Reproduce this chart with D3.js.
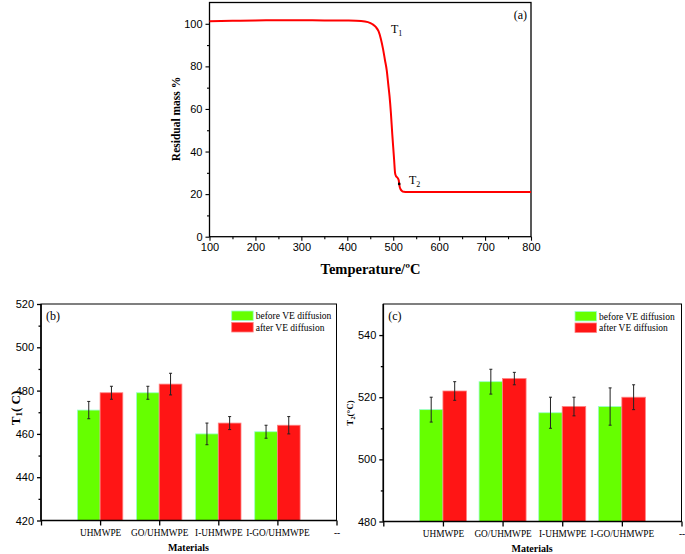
<!DOCTYPE html>
<html><head><meta charset="utf-8">
<script src="https://cdn.jsdelivr.net/npm/d3@7/dist/d3.min.js"></script>
<style>body{margin:0;background:#fff}svg{display:block}</style>
</head><body><svg id="c" width="685" height="554"></svg>
<script>
// ---- Data ----
const tgaTemp = [100,150,200,250,300,350,400,430,445,455,462,468,473,478,482,486,489,492,495,498,500,502,504,506,508,510,512,513,514,516,519,523,530,550,600,700,800];
const tgaMass = [101.2,101.4,101.6,101.7,101.7,101.6,101.5,101.3,100.8,99.8,98.5,96.5,93,88,83,78,72,66,58,48,42,36,30,28.5,28,27.5,26.5,25,23.5,22.3,21.5,21.1,21,21,21,21,21];
const tgaXTicks = [100,200,300,400,500,600,700,800];
const tgaYTicks = [0,20,40,60,80,100];

const categories = ["", "UHMWPE", "GO/UHMWPE", "I-UHMWPE", "I-GO/UHMWPE", "--"];
const materials = ["UHMWPE", "GO/UHMWPE", "I-UHMWPE", "I-GO/UHMWPE"];
const seriesNames = ["before VE diffusion", "after VE diffusion"];
const t1Before = [471, 479, 460, 461];
const t1BeforeErr = [4, 3, 5, 3];
const t1After = [479, 483, 465, 464];
const t1AfterErr = [3, 5, 3, 4];
const t2Before = [516, 525, 515, 517];
const t2BeforeErr = [4, 4, 5, 6];
const t2After = [522, 526, 517, 520];
const t2AfterErr = [3, 2, 3, 4];
const t1Ticks = [420,440,460,480,500,520];
const t2Ticks = [480,500,520,540];

const svg = d3.select("#c");
const SANS = "'Liberation Sans', Arial, sans-serif";
const SERIF = "'Liberation Serif', 'Times New Roman', serif";
const GREEN = "#66ff00", RED = "#ff1515";

// ---- Top TGA chart ----
(function(){
  const L=209.5, R=531, T=2.5, B=236.7;
  const x = d3.scaleLinear().domain([100,800]).range([L,R]);
  const y = d3.scaleLinear().domain([0,110]).range([B,T]);
  const g = svg.append("g");
  g.append("rect").attr("x",L).attr("y",T).attr("width",R-L).attr("height",B-T)
    .attr("fill","none").attr("stroke","#000").attr("stroke-width",1.3);
  const xa = g.append("g").attr("transform",`translate(0,${B})`)
    .call(d3.axisBottom(x).tickValues(tgaXTicks).tickSize(4).tickPadding(3));
  const xm = g.append("g").attr("transform",`translate(0,${B})`)
    .call(d3.axisBottom(x).tickValues(d3.range(150,800,100)).tickSize(2.5).tickFormat(""));
  const ya = g.append("g").attr("transform",`translate(${L},0)`)
    .call(d3.axisLeft(y).tickValues(tgaYTicks).tickSize(4).tickPadding(3));
  const ym = g.append("g").attr("transform",`translate(${L},0)`)
    .call(d3.axisLeft(y).tickValues(d3.range(10,110,20)).tickSize(2.5).tickFormat(""));
  [xa,xm,ya,ym].forEach(a=>{a.select(".domain").remove();a.selectAll("line").attr("stroke","#000").attr("stroke-width",1.1);
    a.selectAll("text").attr("font-family",SANS).attr("font-size",11).attr("fill","#000");});
  const pts = tgaTemp.map((t,i)=>[t,tgaMass[i]]);
  g.append("path").datum(pts)
    .attr("d", d3.line().x(d=>x(d[0])).y(d=>y(d[1])).curve(d3.curveMonotoneX))
    .attr("fill","none").attr("stroke","#ff0000").attr("stroke-width",2);
  g.append("circle").attr("cx",x(513)).attr("cy",y(24.8)).attr("r",1.3).attr("fill","#000");
  const t1 = g.append("text").attr("x",391).attr("y",33).attr("font-family",SERIF).attr("font-size",12);
  t1.append("tspan").text("T");
  t1.append("tspan").attr("font-size",8).attr("dy",3).text("1");
  const t2 = g.append("text").attr("x",409).attr("y",184).attr("font-family",SERIF).attr("font-size",12);
  t2.append("tspan").text("T");
  t2.append("tspan").attr("font-size",8).attr("dy",3).text("2");
  g.append("text").attr("x",527).attr("y",19).attr("text-anchor","end").attr("font-family",SERIF).attr("font-size",12).text("(a)");
  g.append("text").attr("x",370.5).attr("y",274).attr("text-anchor","middle").attr("font-family",SERIF)
    .attr("font-size",14.5).attr("font-weight","bold").text("Temperature/ºC");
  g.append("text").attr("transform",`translate(180,119) rotate(-90)`).attr("text-anchor","middle").attr("font-family",SERIF)
    .attr("font-size",11.5).attr("font-weight","bold").text("Residual mass %");
})();

// ---- Bar charts ----
function barChart(opt){
  const {L,R,T,B,domain,ticks,minor,before,beforeErr,after,afterErr,bw,tag,legX,legY,ylab,ylabX,ylabY,matY,catY} = opt;
  const x = d3.scalePoint().domain(categories).range([L,R]);
  const y = d3.scaleLinear().domain(domain).range([B,T]);
  const g = svg.append("g");
  const series = [[before,beforeErr,GREEN,"#99ffcc",-1],[after,afterErr,RED,"#ff8080",0]];
  series.forEach(([vals,errs,col,edge,off])=>{
    g.selectAll(null).data(materials).enter().append("rect")
      .attr("x",d=>x(d)+off*bw).attr("width",bw)
      .attr("y",(d,i)=>y(vals[i])).attr("height",(d,i)=>B-y(vals[i]))
      .attr("fill",col).attr("stroke",edge).attr("stroke-width",0.8);
  });
  series.forEach(([vals,errs,col,edge,off])=>{
    materials.forEach((m,i)=>{
      const cx = x(m)+off*bw+bw/2;
      const y1=y(vals[i]+errs[i]), y2=y(vals[i]-errs[i]);
      g.append("line").attr("x1",cx).attr("x2",cx).attr("y1",y1).attr("y2",y2).attr("stroke","#222").attr("stroke-width",1);
      [y1,y2].forEach(yy=>g.append("line").attr("x1",cx-1.5).attr("x2",cx+1.5).attr("y1",yy).attr("y2",yy).attr("stroke","#222").attr("stroke-width",1));
    });
  });
  g.append("rect").attr("x",L).attr("y",T).attr("width",R-L).attr("height",B-T)
    .attr("fill","none").attr("stroke","#000").attr("stroke-width",1);
  g.append("line").attr("x1",L).attr("x2",R).attr("y1",B).attr("y2",B).attr("stroke","#000").attr("stroke-width",1.6);
  g.append("line").attr("x1",L).attr("x2",L).attr("y1",T).attr("y2",B).attr("stroke","#000").attr("stroke-width",1.6);
  const xa = g.append("g").attr("transform",`translate(0,${B})`)
    .call(d3.axisBottom(x).tickSize(5).tickPadding(5));
  const ya = g.append("g").attr("transform",`translate(${L},0)`)
    .call(d3.axisLeft(y).tickValues(ticks).tickSize(4).tickPadding(3));
  const ym = g.append("g").attr("transform",`translate(${L},0)`)
    .call(d3.axisLeft(y).tickValues(minor).tickSize(2.5).tickFormat(""));
  [xa,ya,ym].forEach(a=>{a.select(".domain").remove();a.selectAll("line").attr("stroke","#000").attr("stroke-width",1.3);});
  ya.selectAll("text").attr("font-family",SANS).attr("font-size",11).attr("fill","#000");
  xa.selectAll("text").attr("font-family",SERIF).attr("font-size",9.3).attr("fill","#000").attr("y",catY-B).attr("dy",0);
  seriesNames.forEach((s,i)=>{
    g.append("rect").attr("x",legX).attr("y",legY+i*11.5).attr("width",21.5).attr("height",9.5)
      .attr("fill",i?RED:GREEN).attr("stroke",i?"#ff8080":"#99ffcc").attr("stroke-width",0.8);
    g.append("text").attr("x",legX+24).attr("y",legY+i*11.5+8.3).attr("font-family",SERIF).attr("font-size",9.5).text(s);
  });
  g.append("text").attr("x",L+5).attr("y",T+16).attr("font-family",SERIF).attr("font-size",12).text(tag);
  g.append("text").attr("x",(L+R)/2 - 0.3).attr("y",matY).attr("text-anchor","middle").attr("font-family",SERIF)
    .attr("font-size",10).attr("font-weight","bold").text("Materials");
  const yl = g.append("text").attr("transform",`translate(${ylabX},${ylabY}) rotate(-90)`).attr("text-anchor","middle")
    .attr("font-family",SERIF).attr("font-weight","bold").attr("font-size",ylab.size);
  yl.append("tspan").text("T");
  yl.append("tspan").attr("font-size",ylab.size*0.7).attr("dy",2).text(ylab.sub);
  yl.append("tspan").attr("dy",-2).text(ylab.rest);
}

barChart({L:41,R:336.5,T:304,B:520.5,domain:[420,520],ticks:t1Ticks,minor:[430,450,470,490,510],
  before:t1Before,beforeErr:t1BeforeErr,after:t1After,afterErr:t1AfterErr,bw:22.7,tag:"(b)",
  legX:231.7,legY:311,ylab:{size:13,sub:"1",rest:"( C)"},ylabX:20,ylabY:408,matY:550.5,catY:536});

barChart({L:383.3,R:681.5,T:304,B:521.5,domain:[480,550],ticks:t2Ticks,minor:[490,510,530],
  before:t2Before,beforeErr:t2BeforeErr,after:t2After,afterErr:t2AfterErr,bw:23.5,tag:"(c)",
  legX:575,legY:311.5,ylab:{size:9,sub:"2",rest:"(°C)"},ylabX:353,ylabY:413,matY:552,catY:537});
</script></body></html>
